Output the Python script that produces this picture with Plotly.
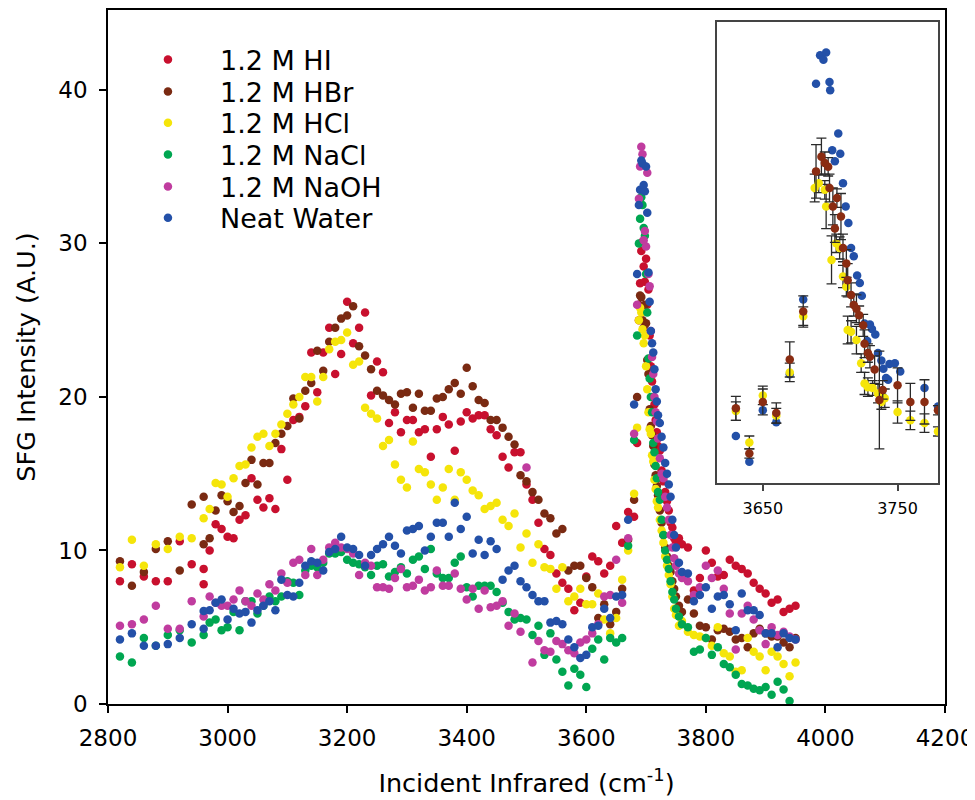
import plotly.graph_objects as go

# ---------------- main-panel data (wavenumber grids, cm-1) ----------------
WN_LOW = [2820, 2840, 2860, 2880, 2900, 2920, 2940,
          2960, 2970, 2980, 2990, 3000, 3010, 3020, 3030, 3040, 3050,
          3060, 3070, 3080, 3090, 3100, 3110, 3120, 3130, 3140, 3150,
          3160, 3170, 3180, 3190, 3200, 3210, 3220, 3230, 3240, 3250,
          3260, 3270, 3280, 3290, 3300, 3310, 3320, 3330, 3340, 3350,
          3360, 3370, 3380, 3390, 3400, 3410, 3420, 3430, 3440, 3450,
          3460, 3470, 3480, 3490, 3500, 3510, 3520, 3530, 3540, 3550,
          3560, 3570, 3580, 3590, 3600, 3610, 3620, 3630, 3640, 3650, 3660]
WN_PEAK = [3670, 3680, 3685, 3688, 3690, 3692, 3694, 3696, 3698, 3700,
           3702, 3704, 3706, 3708, 3710, 3712, 3714, 3716, 3718, 3720,
           3723, 3726, 3729, 3732, 3735, 3738, 3741, 3744, 3747, 3750,
           3755, 3760]
WN_HIGH = [3770, 3780, 3790, 3800, 3810, 3820, 3830, 3840, 3850, 3860,
           3870, 3880, 3890, 3900, 3910, 3920, 3930, 3940, 3950]
WN_EXTRA = [2960]

SERIES_NAMES = ["1.2 M HI", "1.2 M HBr", "1.2 M HCl", "1.2 M NaCl", "1.2 M NaOH", "Neat Water"]
SERIES_COLORS = ["#c8102e", "#7a2a12", "#f5e50a", "#00a651", "#c03c9f", "#2350a8"]

HI_LOW = [8.0, 9.1, 8.3, 8.0, 8.0, 10.6, 9.1,
          8.8, 10.0, 11.7, 11.4, 10.9, 10.8, 12.0, 12.3, 14.7, 13.3,
          12.8, 13.4, 12.7, 16.6, 14.6, 18.5, 18.7, 19.4, 22.9, 20.3,
          22.9, 24.5, 21.5, 22.8, 26.2, 23.5, 24.5, 25.5, 20.1, 22.3,
          21.6, 18.3, 19.0, 17.7, 18.5, 18.5, 17.7, 17.9, 16.1, 17.9,
          18.7, 18.2, 16.5, 18.4, 19.0, 18.6, 18.8, 18.8, 17.9, 17.5,
          16.1, 15.4, 16.4, 16.4, 14.3, 13.3, 11.8, 10.1, 9.7, 8.5,
          7.9, 7.5, 6.1, 6.6, 8.3, 9.6, 9.3, 8.5, 9.0, 11.6, 10.5]
HI_PEAK = [12.5, 12.2, 17.0, 25.0, 27.4, 29.5, 30.1, 28.5, 27.5, 29.0,
           26.0, 27.0, 24.0, 22.0, 21.0, 20.0, 19.5, 18.5, 17.7, 16.8,
           16.5, 15.2, 14.5, 13.8, 13.2, 12.6, 11.8, 11.5, 10.8, 10.5,
           10.8, 10.4]
HI_HIGH = [10.2, 7.4, 8.2, 10.0, 9.2, 8.3, 8.4, 9.4, 9.0, 8.8,
           8.5, 7.9, 7.5, 7.2, 6.6, 6.8, 6.0, 6.2, 6.4]
HI_EXTRA = [7.8]

HBR_LOW = [9.3, 7.7, 8.6, 10.1, 10.6, 8.7, 13.0,
           10.4, 10.8, 12.6, 13.6, 13.2, 12.5, 12.9, 14.4, 15.9, 14.3,
           15.7, 15.7, 17.0, 17.6, 18.1, 19.9, 18.6, 20.4, 20.9, 23.0,
           21.7, 23.6, 24.5, 25.1, 25.3, 25.9, 23.3, 22.7, 21.8, 20.4,
           20.1, 19.8, 19.5, 20.2, 20.3, 19.3, 20.2, 19.1, 19.1, 19.9,
           20.0, 20.5, 20.9, 20.2, 21.9, 20.7, 19.8, 19.6, 18.5, 18.5,
           18.0, 17.4, 16.9, 14.9, 14.5, 13.8, 13.3, 12.4, 12.1, 11.1,
           11.4, 8.7, 9.0, 9.0, 8.2, 7.6, 5.6, 6.5, 5.2, 6.0, 7.5]
HBR_PEAK = [10.7, 13.3, 20.0, 26.0, 26.6, 26.5, 25.0, 24.5, 26.0, 24.8,
            22.4, 21.5, 19.2, 18.1, 17.5, 16.8, 15.6, 14.9, 14.2, 13.6,
            12.6, 11.8, 11.0, 10.2, 9.6, 9.0, 8.6, 8.0, 7.5, 7.0,
            6.4, 6.0]
HBR_HIGH = [6.8, 5.9, 5.1, 5.0, 4.2, 4.8, 4.9, 4.7, 4.2, 4.3,
            3.7, 4.6, 4.9, 4.6, 4.4, 4.4, 4.0, 3.7, 4.3]
HBR_EXTRA = [13.5]

HCL_LOW = [8.9, 10.7, 9.0, 10.4, 10.1, 10.9, 10.8,
           12.1, 12.7, 14.4, 14.3, 13.5, 14.7, 15.5, 15.6, 16.7, 17.4,
           17.6, 16.8, 17.6, 18.2, 18.9, 19.5, 20.0, 21.3, 21.3, 19.7,
           21.3, 23.1, 23.6, 23.7, 24.2, 22.1, 22.3, 19.3, 18.9, 18.6,
           16.8, 17.2, 15.6, 14.6, 14.1, 17.1, 15.3, 15.1, 14.3, 13.3,
           14.1, 15.3, 13.3, 15.1, 14.6, 13.9, 13.6, 12.7, 12.9, 13.1,
           12.0, 11.6, 12.4, 10.2, 11.1, 9.2, 10.4, 8.9, 8.8, 7.5,
           8.9, 6.7, 7.0, 7.5, 6.5, 6.5, 7.2, 5.5, 4.6, 5.6, 8.1]
HCL_PEAK = [10.0, 13.7, 18.0, 25.0, 25.8, 25.5, 24.4, 23.5, 24.0, 22.0,
            20.5, 19.0, 17.9, 17.6, 16.2, 15.8, 14.6, 14.0, 13.2, 12.8,
            12.0, 11.3, 10.5, 9.6, 9.0, 8.4, 7.8, 7.0, 6.2, 5.8,
            5.1, 5.4]
HCL_HIGH = [4.7, 4.5, 4.4, 4.3, 3.8, 5.0, 3.3, 3.1, 2.1, 2.2,
            4.3, 3.4, 3.1, 2.2, 3.4, 3.1, 2.6, 1.8, 2.7]
HCL_EXTRA = [None]

NACL_LOW = [3.1, 2.7, 4.3, 3.8, 4.5, 4.8, 4.0,
            4.5, 5.3, 5.5, 4.8, 5.0, 6.0, 4.8, 6.7, 6.7, 5.9,
            6.4, 7.0, 6.7, 7.0, 8.0, 7.9, 7.1, 8.7, 9.0, 8.9,
            9.2, 9.8, 9.8, 9.9, 9.4, 9.2, 9.1, 8.9, 8.4, 9.0,
            9.1, 8.3, 8.6, 8.9, 8.5, 9.4, 9.6, 8.8, 10.1, 8.5,
            8.2, 8.2, 9.2, 9.6, 7.6, 7.0, 7.7, 7.7, 7.7, 7.3,
            6.6, 6.0, 5.5, 5.6, 5.5, 4.5, 5.1, 3.2, 4.6, 2.9,
            2.1, 1.2, 2.3, 1.9, 1.1, 3.6, 4.2, 2.9, 4.3, 4.0, 4.3]
NACL_PEAK = [10.3, 17.2, 24.0, 30.0, 31.6, 33.0, 32.5, 31.0, 30.5, 28.0,
             25.5, 22.5, 21.2, 20.0, 19.0, 17.0, 16.4, 15.5, 14.7, 13.8,
             13.3, 12.0, 11.0, 10.0, 9.4, 8.8, 8.0, 7.3, 6.8, 6.2,
             5.7, 5.2]
NACL_HIGH = [5.0, 3.4, 3.55, 4.3, 3.2, 3.7, 2.6, 2.4, 1.9, 1.3,
             1.2, 1.0, 0.9, 1.1, 0.6, 1.45, 0.95, 0.2, None]
NACL_EXTRA = [None]

NAOH_LOW = [5.1, 5.2, 5.5, 6.4, 4.9, 4.9, 6.7,
            5.7, 7.0, 6.6, 6.4, 6.4, 6.8, 7.4, 6.7, 6.4, 7.2,
            6.8, 7.8, 7.4, 8.5, 7.9, 9.2, 9.4, 8.4, 10.1, 8.4,
            9.4, 10.2, 10.5, 10.2, 10.1, 9.8, 8.4, 9.2, 9.0, 7.6,
            7.6, 7.5, 8.2, 8.8, 7.6, 7.7, 8.1, 7.4, 7.6, 8.7,
            7.7, 7.7, 8.5, 7.5, 6.8, 7.5, 6.2, 7.4, 6.3, 6.4,
            6.7, 5.1, 5.9, 4.7, 15.4, 2.7, 4.1, 3.5, 3.4, 4.1,
            3.9, 3.5, 3.3, 4.0, 4.2, 4.6, 5.2, 7.0, 7.1, 9.4, 6.6]
NAOH_PEAK = [10.8, 17.6, 26.0, 32.9, 35.0, 36.3, 35.8, 30.2, 30.8, 29.8,
             34.6, 28.0, 27.2, 24.3, 22.6, 21.5, 20.0, 19.0, 18.4, 17.3,
             16.0, 15.0, 14.7, 13.5, 12.8, 12.0, 11.0, 10.2, 9.5, 9.0,
             8.5, 8.2]
NAOH_HIGH = [8.0, 7.1, 7.6, 9.0, 8.2, 8.7, 7.5, 5.9, 3.55, 5.9,
             6.4, 5.5, 4.8, 3.9, 5.0, 4.5, 4.7, 4.4, 4.2]
NAOH_EXTRA = [None]

NW_LOW = [4.2, 4.6, 3.8, 3.8, 3.9, 4.3, 5.2,
          4.9, 6.1, 6.6, 6.8, 5.5, 6.2, 5.9, 6.0, 5.3, 6.1,
          6.4, 6.7, 6.1, 8.1, 7.1, 7.0, 7.9, 9.0, 9.3, 9.2,
          8.7, 9.9, 10.1, 10.9, 10.2, 10.1, 9.7, 9.0, 9.7, 10.1,
          10.4, 10.9, 10.3, 9.8, 11.3, 11.4, 11.6, 10.0, 10.9, 11.8,
          11.8, 10.9, 13.1, 11.4, 12.2, 9.8, 10.7, 9.7, 10.6, 10.1,
          8.1, 8.7, 9.0, 8.0, 7.6, 7.1, 6.7, 6.7, 5.3, 5.4,
          5.2, 4.2, 3.7, 3.0, 3.2, 5.0, 5.1, 6.2, 5.6, 7.0, 7.1]
NW_PEAK = [12.0, 19.5, 28.0, 32.5, 33.5, 35.4, 35.2, 33.8, 33.4, 35.0,
           32.0, 28.1, 26.2, 24.3, 23.5, 22.9, 21.8, 20.5, 19.7, 18.8,
           18.3, 17.4, 16.7, 15.7, 15.0, 14.3, 13.5, 12.0, 11.0, 10.2,
           9.2, 8.6]
NW_HIGH = [8.5, 6.7, 7.1, 7.6, 6.2, 7.0, 7.1, 6.5, 4.8, 7.2,
           6.1, 6.1, 5.8, 4.6, 4.6, 3.7, 4.6, 4.3, 4.2]
NW_EXTRA = [6.05]

# ---------------- inset data (free-OH region, arbitrary units) ----------------
INSET_HBR_WN = [3630, 3640, 3650, 3660, 3670, 3680, 3689.5, 3693.5, 3696, 3698.5,
                3699.5, 3702, 3703.5, 3705, 3708, 3709.5, 3712, 3713, 3715.5, 3717.5,
                3719.5, 3721.5, 3724.5, 3725.5, 3728, 3729.5, 3733, 3736.5, 3739, 3750,
                3759.5, 3770, 3780]
INSET_HBR = [8.1, 3.2, 8.8, 7.6, 13.4, 18.6, 33.8, 35.4, 34.7, 34.3,
             32.0, 30.0, 27.6, 30.9, 28.9, 25.5, 23.8, 22.0, 20.4, 19.3,
             18.9, 18.2, 17.1, 15.1, 14.1, 13.7, 12.3, 9.0, 10.1, 10.6,
             8.8, 8.8, 7.9]
INSET_HBR_ERR = [1.3, 0.5, 1.4, 1.1, 1.9, 1.7, 2.9, 2.0, 1.2, 1.0,
                 1.5, 2.0, 1.5, 1.0, 2.5, 1.5, 1.5, 1.8, 1.3, 1.2,
                 1.5, 1.0, 1.2, 1.5, 1.0, 1.2, 1.5, 5.3, 1.0, 1.9,
                 2.0, 2.4, 0.5]

INSET_HCL_WN = [3630, 3640, 3650, 3660, 3670, 3680, 3688.5, 3691.5, 3696, 3697,
                3701, 3704.5, 3707, 3709.5, 3712, 3713, 3715.5, 3719.5, 3723, 3725.5,
                3728, 3731.5, 3735.5, 3738, 3740.5, 3750, 3759.5, 3770, 3780]
INSET_HCL = [7.8, 4.4, 9.5, 7.3, 12.0, 18.1, 32.0, 32.5, 31.8, 30.0,
             24.2, 26.0, 25.5, 22.4, 21.3, 16.6, 16.4, 15.5, 13.0, 10.8,
             10.4, 10.3, 9.7, 8.8, 9.2, 7.7, 6.8, 6.5, 5.6]
INSET_HCL_ERR = [1.0, 0.7, 1.0, 0.8, 1.0, 1.0, 1.5, 1.0, 1.0, 2.4,
                 2.6, 1.0, 1.2, 1.2, 1.0, 1.5, 1.2, 1.5, 1.0, 1.2,
                 1.0, 0.8, 1.0, 0.8, 1.0, 1.2, 1.0, 1.0, 0.5]

INSET_NW_WN = [3630, 3640, 3650, 3660, 3670, 3680, 3689.5, 3692.5, 3695, 3697,
               3699.5, 3700, 3706, 3701.5, 3707.5, 3703.5, 3709.5, 3711.5, 3713.5, 3715.5,
               3717.5, 3720, 3722, 3723.5, 3725.5, 3729.5, 3731, 3733.5, 3727.5, 3735.5,
               3738, 3739.5, 3744, 3748, 3752, 3741.5, 3743, 3770, 3780]
INSET_NW = [5.1, 2.3, 7.9, 6.6, 11.8, 19.9, 43.3, 46.4, 45.9, 46.7,
            43.5, 42.6, 37.9, 36.1, 35.7, 34.9, 32.5, 30.0, 28.2, 25.5,
            24.6, 22.5, 21.7, 20.3, 17.3, 17.2, 16.7, 16.1, 15.4, 14.1,
            13.3, 12.4, 12.9, 13.0, 12.1, 11.4, 11.2, 10.3, 8.3]

MAIN_X_TICKS = [2800, 3000, 3200, 3400, 3600, 3800, 4000, 4200]
MAIN_Y_TICKS = [0, 10, 20, 30, 40]
INSET_X_TICKS = [3650, 3750]

FONT = "DejaVu Sans, Verdana, sans-serif"

main_series = [
    (HI_LOW, HI_PEAK, HI_HIGH, HI_EXTRA),
    (HBR_LOW, HBR_PEAK, HBR_HIGH, HBR_EXTRA),
    (HCL_LOW, HCL_PEAK, HCL_HIGH, HCL_EXTRA),
    (NACL_LOW, NACL_PEAK, NACL_HIGH, NACL_EXTRA),
    (NAOH_LOW, NAOH_PEAK, NAOH_HIGH, NAOH_EXTRA),
    (NW_LOW, NW_PEAK, NW_HIGH, NW_EXTRA),
]
LEGEND_IDS = ["legend", "legend2", "legend3", "legend4", "legend5", "legend6"]

fig = go.Figure()
wn_all = WN_LOW + WN_PEAK + WN_HIGH + WN_EXTRA
for name, color, lid, (lo, pk, hi, ex) in zip(SERIES_NAMES, SERIES_COLORS, LEGEND_IDS, main_series):
    fig.add_trace(go.Scatter(
        x=wn_all, y=lo + pk + hi + ex, mode="markers", name=name, legend=lid,
        marker=dict(color=color, size=8.5, line=dict(width=0)),
        xaxis="x", yaxis="y"))

ERR_STYLE = dict(type="data", color="#2a2a2a", thickness=1.3, width=5)
fig.add_trace(go.Scatter(
    x=INSET_NW_WN, y=INSET_NW, mode="markers", showlegend=False,
    marker=dict(color=SERIES_COLORS[5], size=8.5), xaxis="x2", yaxis="y2"))
fig.add_trace(go.Scatter(
    x=INSET_HCL_WN, y=INSET_HCL, mode="markers", showlegend=False,
    error_y=dict(array=INSET_HCL_ERR, **ERR_STYLE),
    marker=dict(color=SERIES_COLORS[2], size=8.5), xaxis="x2", yaxis="y2"))
fig.add_trace(go.Scatter(
    x=INSET_HBR_WN, y=INSET_HBR, mode="markers", showlegend=False,
    error_y=dict(array=INSET_HBR_ERR, **ERR_STYLE),
    marker=dict(color="#8a2c12", size=8.5), xaxis="x2", yaxis="y2"))

axis_common = dict(showline=True, linecolor="black", linewidth=1.5, mirror=True,
                   ticks="outside", ticklen=7, tickwidth=1.5, tickcolor="black",
                   showgrid=False, zeroline=False, automargin=False,
                   tickfont=dict(size=23, color="black", family=FONT))

# one single-entry legend per series so the row pitch can follow the reference
LEGEND_ROW_Y = [0.928, 0.882, 0.837, 0.791, 0.745, 0.700]
legend_layout = {}
for lid, ly in zip(LEGEND_IDS, LEGEND_ROW_Y):
    legend_layout[lid] = dict(x=0.0095, y=ly, xanchor="left", yanchor="middle",
                              bgcolor="rgba(0,0,0,0)", borderwidth=0, itemwidth=94,
                              font=dict(size=27, family=FONT, color="black"))

# the html page adds an 8px body margin, so the figure is 8px smaller than the window
fig.update_layout(
    width=967, height=792,
    margin=dict(l=100, r=30, t=2, b=96),
    paper_bgcolor="white", plot_bgcolor="white",
    font=dict(family=FONT, color="black"),
    xaxis=dict(range=[2800, 4200], tickvals=MAIN_X_TICKS, ticklabelstandoff=6,
               title=dict(text="Incident Infrared (cm<sup>-1</sup>)",
                          font=dict(size=25.5, family=FONT), standoff=24),
               **axis_common),
    yaxis=dict(range=[0, 45.2], tickvals=MAIN_Y_TICKS, ticklabelstandoff=7,
               title=dict(text="SFG Intensity (A.U.)",
                          font=dict(size=25.5, family=FONT), standoff=15),
               **axis_common),
    xaxis2=dict(domain=[0.7276, 0.9916], anchor="y2", range=[3616, 3780],
                tickvals=INSET_X_TICKS, ticks="outside", ticklen=6, tickwidth=1.5,
                tickcolor="#444", showline=True, linecolor="#444", linewidth=1.5,
                mirror=True, showgrid=False, zeroline=False, ticklabelstandoff=4,
                tickfont=dict(size=16, family=FONT, color="black")),
    yaxis2=dict(domain=[0.3184, 0.9827], anchor="x2", range=[0, 50],
                showticklabels=False, ticks="", showline=True, linecolor="#444",
                linewidth=1.5, mirror=True, showgrid=False, zeroline=False),
    showlegend=True,
    **legend_layout,
)

fig.write_html("out.html")
